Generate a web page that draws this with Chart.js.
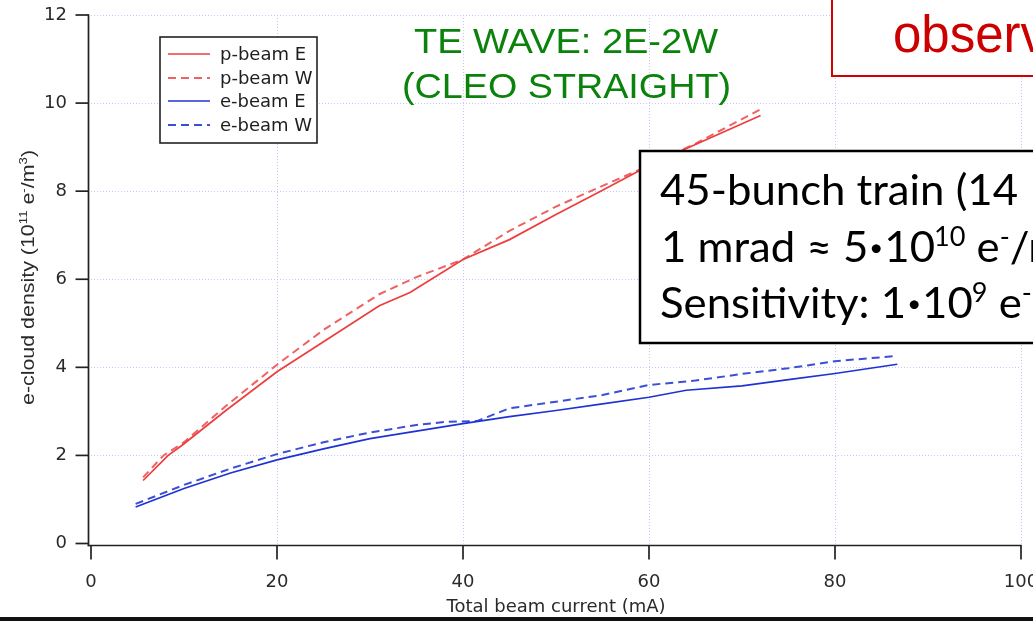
<!DOCTYPE html>
<html><head><meta charset="utf-8">
<script src="https://cdn.jsdelivr.net/npm/chart.js@4.4.1/dist/chart.umd.min.js"></script>
<style>html,body{margin:0;padding:0;background:#fff;overflow:hidden}canvas{display:block}</style>
</head><body>
<canvas id="c" width="1033" height="621"></canvas>
<script>
// ---- data ----
const xTicks = [0, 20, 40, 60, 80, 100];
const yTicks = [0, 2, 4, 6, 8, 10, 12];
const seriesLabels = ['p-beam E', 'p-beam W', 'e-beam E', 'e-beam W'];

const pBeamE_x = [5.6, 8.3, 9.8, 14.5, 20, 25, 31, 34.3, 40, 45, 50, 55, 59, 63.3, 72];
const pBeamE_y = [1.43, 2.0, 2.23, 3.02, 3.9, 4.58, 5.4, 5.7, 6.45, 6.9, 7.47, 8.02, 8.47, 8.9, 9.72];

const pBeamW_x = [5.6, 7.8, 10, 14.5, 20, 25, 31, 35, 40, 45, 50, 55, 60, 65, 72];
const pBeamW_y = [1.5, 2.0, 2.3, 3.12, 4.06, 4.85, 5.66, 6.05, 6.45, 7.1, 7.65, 8.12, 8.58, 9.08, 9.86];

const eBeamE_x = [4.8, 10, 15, 20, 25, 30, 35, 40, 45, 50, 55, 60, 64, 70, 75, 80, 86.7];
const eBeamE_y = [0.83, 1.25, 1.6, 1.9, 2.15, 2.38, 2.55, 2.72, 2.88, 3.02, 3.17, 3.32, 3.48, 3.58, 3.72, 3.86, 4.07];

const eBeamW_x = [4.8, 10, 15, 20, 25, 30, 35, 38, 41.5, 45, 50, 55, 60, 65, 70, 75, 80, 86.7];
const eBeamW_y = [0.9, 1.33, 1.7, 2.03, 2.3, 2.52, 2.69, 2.76, 2.78, 3.07, 3.22, 3.37, 3.6, 3.7, 3.85, 3.98, 4.14, 4.26];

const titleLines = ['TE WAVE: 2E-2W', '(CLEO STRAIGHT)'];
const noteText = 'observ';

// ---- styles ----
const RED = '#ee3d3d', RED_D = '#f06262', BLUE = '#1f33d4', BLUE_D = '#3a4ed8';
const DASH = [8, 5];

function pts(xs, ys) { return xs.map((x, i) => ({ x: x, y: ys[i] })); }

const datasets = [
  { label: seriesLabels[0], data: pts(pBeamE_x, pBeamE_y), borderColor: RED, borderWidth: 1.7, borderDash: [] },
  { label: seriesLabels[1], data: pts(pBeamW_x, pBeamW_y), borderColor: RED_D, borderWidth: 2, borderDash: DASH },
  { label: seriesLabels[2], data: pts(eBeamE_x, eBeamE_y), borderColor: BLUE, borderWidth: 1.7, borderDash: [] },
  { label: seriesLabels[3], data: pts(eBeamW_x, eBeamW_y), borderColor: BLUE_D, borderWidth: 2, borderDash: DASH }
].map(d => Object.assign(d, { pointRadius: 0, tension: 0, fill: false }));

function line(ctx, x1, y1, x2, y2) { ctx.beginPath(); ctx.moveTo(x1, y1); ctx.lineTo(x2, y2); ctx.stroke(); }

function partSize(p, size) { return p.sup ? size * 0.62 : size * (p.f || 1); }
function partDy(p, size) { return p.sup ? -size * 0.38 : (p.dy || 0); }

function drawRich(ctx, x, y, parts, size, fam, color, sx) {
  ctx.save();
  ctx.translate(x, y);
  ctx.scale(sx, 1);
  ctx.fillStyle = color;
  ctx.textBaseline = 'alphabetic';
  ctx.textAlign = 'left';
  let cx = 0;
  parts.forEach(p => {
    ctx.font = partSize(p, size) + 'px ' + fam;
    ctx.fillText(p.t, cx, partDy(p, size));
    cx += ctx.measureText(p.t).width + (p.gap || 0);
  });
  ctx.restore();
  return cx;
}
function richWidth(ctx, parts, size, fam) {
  let w = 0;
  parts.forEach(p => { ctx.font = partSize(p, size) + 'px ' + fam; w += ctx.measureText(p.t).width + (p.gap || 0); });
  return w;
}

const deco = {
  id: 'deco',
  beforeDatasetsDraw(chart) {
    const ctx = chart.ctx, xs = chart.scales.x, ys = chart.scales.y, a = chart.chartArea;
    ctx.save();
    ctx.strokeStyle = '#c6c6ff'; ctx.lineWidth = 1; ctx.setLineDash([1, 2]);
    xTicks.forEach(v => { if (v === 0) return; const px = Math.round(xs.getPixelForValue(v)) + 0.5; line(ctx, px, a.top, px, a.bottom); });
    yTicks.forEach(v => { if (v === 0) return; const py = Math.round(ys.getPixelForValue(v)) + 0.5; line(ctx, a.left, py, a.right, py); });
    ctx.restore();
  },
  afterDatasetsDraw(chart) {
    const ctx = chart.ctx, xs = chart.scales.x, ys = chart.scales.y, a = chart.chartArea;
    ctx.save();
    ctx.strokeStyle = '#222'; ctx.lineWidth = 1.7; ctx.setLineDash([]);
    const ax = a.left - 2.5, ay = a.bottom + 2;
    line(ctx, ax, ys.getPixelForValue(yTicks[yTicks.length - 1]) - 0.8, ax, ay + 0.8);
    line(ctx, ax - 0.8, ay, xs.getPixelForValue(xTicks[xTicks.length - 1]) + 0.8, ay);
    yTicks.forEach(v => { const py = ys.getPixelForValue(v); line(ctx, ax - 13, py, ax, py); });
    xTicks.forEach(v => { const px = xs.getPixelForValue(v); line(ctx, px, ay, px, ay + 14); });
    ctx.restore();
  },
  afterDraw(chart) {
    const ctx = chart.ctx;
    ctx.save();
    // y axis title (rotated, with superscripts)
    const yParts = [{ t: 'e-cloud density (10' }, { t: '11', sup: true }, { t: ' e' }, { t: '-', sup: true }, { t: '/m' }, { t: '3', sup: true }, { t: ')' }];
    const yfam = '"Liberation Sans", Arial, sans-serif';
    const yw = richWidth(ctx, yParts, 19, yfam);
    ctx.save();
    ctx.translate(34, 277.5);
    ctx.rotate(-Math.PI / 2);
    drawRich(ctx, -255 / 2, 0, yParts, 19, yfam, '#2a2a2a', 255 / yw);
    ctx.restore();

    // legend box
    ctx.fillStyle = '#fff';
    ctx.fillRect(160, 37, 157, 106);
    ctx.strokeStyle = '#222'; ctx.lineWidth = 1.6; ctx.setLineDash([]);
    ctx.strokeRect(160, 37, 157, 106);
    const rowsY = [54, 78, 101, 125];
    chart.data.datasets.forEach((d, i) => {
      ctx.strokeStyle = d.borderColor; ctx.lineWidth = d.borderWidth;
      ctx.setLineDash(d.borderDash);
      line(ctx, 168, rowsY[i], 210, rowsY[i]);
      ctx.setLineDash([]);
      ctx.fillStyle = '#1e1e1e';
      ctx.font = '18px "DejaVu Sans", sans-serif';
      ctx.textBaseline = 'middle'; ctx.textAlign = 'left';
      ctx.fillText(d.label, 220, rowsY[i] + 1);
    });

    // green title
    ctx.fillStyle = '#0b820b';
    ctx.textBaseline = 'alphabetic'; ctx.textAlign = 'left';
    const tfam = '"Liberation Sans", Arial, sans-serif';
    [[titleLines[0], 414, 304, 53], [titleLines[1], 402, 329, 98]].forEach(([t, x, w, by]) => {
      ctx.font = '35px ' + tfam;
      const mw = ctx.measureText(t).width;
      ctx.save(); ctx.translate(x, by); ctx.scale(w / mw, 1); ctx.fillText(t, 0, 0); ctx.restore();
    });

    // red note box (clipped at the canvas edge)
    ctx.fillStyle = '#fff';
    ctx.fillRect(832, -5, 220, 81);
    ctx.strokeStyle = '#d40000'; ctx.lineWidth = 2;
    ctx.strokeRect(832, -5, 220, 81);
    ctx.fillStyle = '#cc0000';
    ctx.font = '51px ' + tfam;
    ctx.fillText(noteText, 893, 52);

    // black info box
    ctx.fillStyle = '#fff';
    ctx.fillRect(640, 151, 420, 192);
    ctx.strokeStyle = '#000'; ctx.lineWidth = 2.5;
    ctx.strokeRect(640, 151, 420, 192);
    const bfam = 'Lato, "Open Sans", sans-serif';
    const bsize = 42;
    ctx.font = bsize + 'px ' + bfam;
    const sx = 358 / ctx.measureText('45-bunch train (14').width;
    const bul = { t: '\u2022', f: 0.55, dy: -6, gap: 1 };
    drawRich(ctx, 660, 205, [{ t: '45-bunch train (14' }], bsize, bfam, '#000', sx);
    drawRich(ctx, 661, 262, [{ t: '1 mrad \u2248 5', gap: 1 }, bul, { t: '10', gap: -1 }, { t: '10', sup: true }, { t: ' e' }, { t: '-', sup: true }, { t: '/m' }, { t: '3', sup: true }], bsize, bfam, '#000', sx);
    drawRich(ctx, 660, 318, [{ t: 'Sensitivity: 1', gap: 1 }, bul, { t: '10', gap: -1 }, { t: '9', sup: true }, { t: ' e' }, { t: '-', sup: true }, { t: '/m' }, { t: '3', sup: true }], bsize, bfam, '#000', sx);

    // bottom rule
    ctx.fillStyle = '#111';
    ctx.fillRect(0, 617, 1033, 4);
    ctx.restore();
  }
};

new Chart(document.getElementById('c').getContext('2d'), {
  type: 'line',
  data: { datasets: datasets },
  options: {
    responsive: false, animation: false, devicePixelRatio: 1,
    layout: { padding: { left: 0, right: 12, top: 15, bottom: 0 } },
    plugins: { legend: { display: false }, tooltip: { enabled: false } },
    scales: {
      x: {
        type: 'linear', min: xTicks[0], max: xTicks[xTicks.length - 1],
        grid: { display: false }, border: { display: false },
        afterBuildTicks(s) { s.ticks = xTicks.map(v => ({ value: v })); },
        ticks: { padding: 20, color: '#2a2a2a', maxRotation: 0, autoSkip: false, font: { family: '"DejaVu Sans", sans-serif', size: 18 } },
        title: { display: true, text: 'Total beam current (mA)', color: '#2a2a2a', font: { family: '"DejaVu Sans", sans-serif', size: 18 }, padding: { top: 0, bottom: 3 } },
        afterFit(s) { s.height = 77.5; s.paddingLeft = 0; s.paddingRight = 0; }
      },
      y: {
        type: 'linear', min: yTicks[0], max: yTicks[yTicks.length - 1],
        grid: { display: false }, border: { display: false },
        afterBuildTicks(s) { s.ticks = yTicks.map(v => ({ value: v })); },
        ticks: { padding: 16, color: '#2a2a2a', font: { family: '"DejaVu Sans", sans-serif', size: 18 } },
        afterFit(s) { s.width = 91; s.paddingTop = 0; s.paddingBottom = 0; }
      }
    }
  },
  plugins: [deco]
});
</script>
</body></html>
